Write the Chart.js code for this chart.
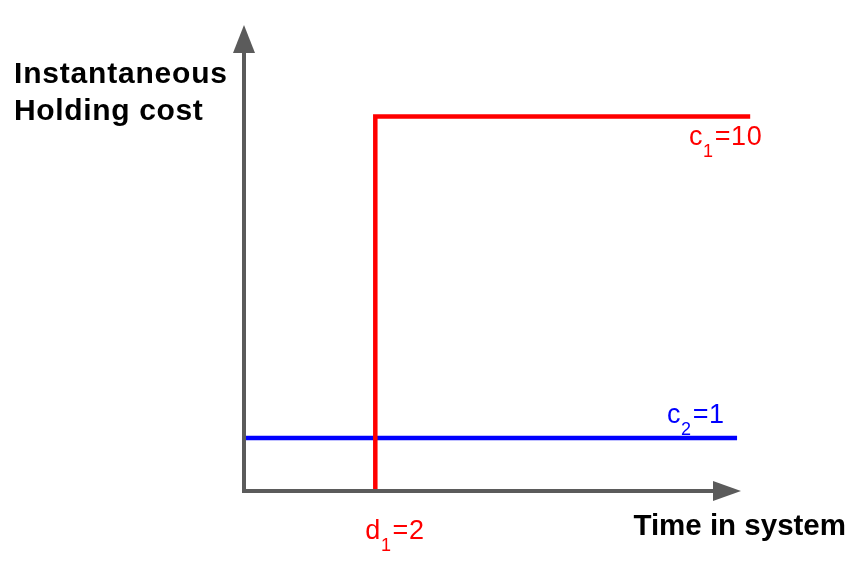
<!DOCTYPE html>
<html>
<head>
<meta charset="utf-8">
<script src="https://cdn.jsdelivr.net/npm/chart.js@4"></script>
<style>
html,body{margin:0;padding:0;background:#fff;}
#wrap{width:860px;height:587px;position:relative;}
</style>
</head>
<body>
<div id="wrap"><canvas id="c" width="860" height="587"></canvas></div>
<script>
// Schematic values
const redX = [2, 2, 7.71];
const redY = [0, 7.07, 7.07];
const blueX = [0, 7.51];
const blueY = [1, 1];
const xMax = 7.57;
const yMax = 8.8;
const yAxisTitle = ['Instantaneous', 'Holding cost'];
const xAxisTitle = 'Time in system';
const c1Label = [['c', false], ['1', true], ['=10', false]];
const c2Label = [['c', false], ['2', true], ['=1', false]];
const d1Label = [['d', false], ['1', true], ['=2', false]];

const toPts = (xs, ys) => xs.map((x, i) => ({x: x, y: ys[i]}));

function drawSub(ctx, parts, x, y, color) {
  ctx.fillStyle = color;
  ctx.textBaseline = 'alphabetic';
  ctx.textAlign = 'left';
  ctx.letterSpacing = '0.6px';
  let cx = x;
  for (const [t, sub] of parts) {
    ctx.font = sub ? '18px "Liberation Sans", Arial, sans-serif' : '27px "Liberation Sans", Arial, sans-serif';
    ctx.fillText(t, cx, sub ? y + 12 : y);
    cx += ctx.measureText(t).width + (sub ? 1 : 0);
  }
  ctx.letterSpacing = '0px';
}

const decor = {
  id: 'decor',
  afterDatasetsDraw(chart) {
    const ctx = chart.ctx;
    const xs = chart.scales.x, ys = chart.scales.y;
    const ox = xs.getPixelForValue(0), oy = ys.getPixelForValue(0);
    const tx = xs.getPixelForValue(xMax), ty = ys.getPixelForValue(yMax);
    ctx.save();
    ctx.strokeStyle = '#5b5b5b';
    ctx.fillStyle = '#5b5b5b';
    ctx.lineWidth = 4;
    ctx.lineCap = 'butt';
    ctx.lineJoin = 'miter';
    ctx.beginPath();
    ctx.moveTo(ox, ty + 26);
    ctx.lineTo(ox, oy);
    ctx.lineTo(tx - 26, oy);
    ctx.stroke();
    // arrow heads
    ctx.beginPath();
    ctx.moveTo(ox, ty);
    ctx.lineTo(ox - 11, ty + 28);
    ctx.lineTo(ox + 11, ty + 28);
    ctx.closePath();
    ctx.fill();
    ctx.beginPath();
    ctx.moveTo(tx, oy);
    ctx.lineTo(tx - 28, oy - 10);
    ctx.lineTo(tx - 28, oy + 10);
    ctx.closePath();
    ctx.fill();

    // titles
    ctx.fillStyle = '#000';
    ctx.font = 'bold 30px "Liberation Sans", Arial, sans-serif';
    ctx.textAlign = 'left';
    ctx.textBaseline = 'alphabetic';
    ctx.letterSpacing = '0.8px';
    ctx.fillText(yAxisTitle[0], 14, 83);
    ctx.letterSpacing = '0.65px';
    ctx.fillText(yAxisTitle[1], 14, 120);
    ctx.letterSpacing = '0px';
    ctx.font = 'bold 29.5px "Liberation Sans", Arial, sans-serif';
    ctx.textAlign = 'right';
    ctx.fillText(xAxisTitle, 846, 535);

    // value labels
    const redTop = ys.getPixelForValue(redY[1]);
    const blueYpx = ys.getPixelForValue(blueY[0]);
    drawSub(ctx, c1Label, 689, redTop + 28.5, '#ff0000');
    drawSub(ctx, c2Label, 667, blueYpx - 15.5, '#0000ff');
    drawSub(ctx, d1Label, xs.getPixelForValue(redX[0]) - 10, oy + 48, '#ff0000');
    ctx.restore();
  }
};

new Chart(document.getElementById('c'), {
  type: 'line',
  data: {
    datasets: [
      {data: toPts(redX, redY), borderColor: '#ff0000', borderWidth: 4.5, pointRadius: 0, tension: 0, clip: false, fill: false},
      {data: toPts(blueX, blueY), borderColor: '#0000ff', borderWidth: 4.5, pointRadius: 0, tension: 0, clip: false, fill: false}
    ]
  },
  options: {
    responsive: false,
    animation: false,
    layout: {padding: {left: 244, right: 119, top: 25, bottom: 96}},
    plugins: {legend: {display: false}, tooltip: {enabled: false}},
    scales: {
      x: {type: 'linear', min: 0, max: xMax, display: false},
      y: {type: 'linear', min: 0, max: yMax, display: false}
    }
  },
  plugins: [decor]
});
</script>
</body>
</html>
